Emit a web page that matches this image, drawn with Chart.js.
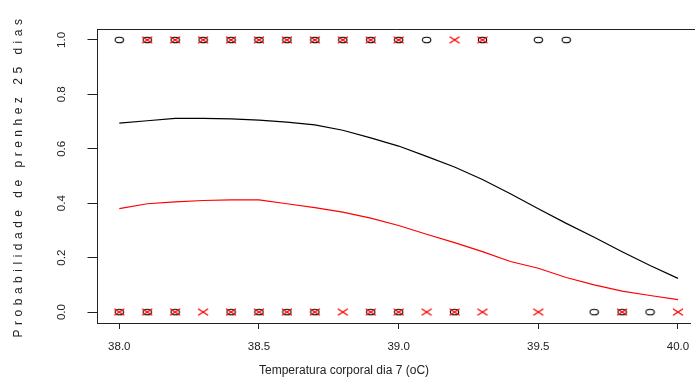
<!DOCTYPE html>
<html>
<head>
<meta charset="utf-8">
<script src="https://cdn.jsdelivr.net/npm/chart.js@4.4.1/dist/chart.umd.min.js"></script>
<style>
  html, body { margin: 0; padding: 0; background: #fff; }
  #wrap { width: 695px; height: 378px; }
</style>
</head>
<body>
<div id="wrap"><canvas id="chart" width="695" height="378"></canvas></div>
<script>
// observed outcomes (1 = prenhe, 0 = vazia), by temperature
const circleAt1 = [38.0, 38.1, 38.2, 38.3, 38.4, 38.5, 38.6, 38.7, 38.8, 38.9, 39.0, 39.1, 39.3, 39.5, 39.6];
const circleAt0 = [38.0, 38.1, 38.2, 38.4, 38.5, 38.6, 38.7, 38.9, 39.0, 39.2, 39.7, 39.8, 39.9];
const crossAt1 = [38.1, 38.2, 38.3, 38.4, 38.5, 38.6, 38.7, 38.8, 38.9, 39.0, 39.2, 39.3];
const crossAt0 = [38.0, 38.1, 38.2, 38.3, 38.4, 38.5, 38.6, 38.7, 38.8, 38.9, 39.0, 39.1, 39.2, 39.3, 39.5, 39.8, 40.0];

// fitted curves
const tempGrid = [38.0, 38.1, 38.2, 38.3, 38.4, 38.5, 38.6, 38.7, 38.8, 38.9, 39.0,
                  39.1, 39.2, 39.3, 39.4, 39.5, 39.6, 39.7, 39.8, 39.9, 40.0];
const probBlack = [0.694, 0.703, 0.712, 0.712, 0.710, 0.705, 0.698, 0.688, 0.668, 0.640, 0.610,
                   0.572, 0.533, 0.487, 0.435, 0.380, 0.326, 0.275, 0.222, 0.171, 0.124];
const probRed = [0.380, 0.398, 0.405, 0.410, 0.412, 0.412, 0.398, 0.384, 0.367, 0.345, 0.318,
                 0.286, 0.255, 0.222, 0.186, 0.161, 0.127, 0.100, 0.077, 0.061, 0.046];

const xTicks = [38.0, 38.5, 39.0, 39.5, 40.0];
const yTicks = [0.0, 0.2, 0.4, 0.6, 0.8, 1.0];

const FONT = '"Liberation Sans", Arial, sans-serif';
const INK = '#222';

// R-like open circle (pch 1) and x (pch 4)
function makeCircle() {
    const c = document.createElement('canvas');
    c.width = 11; c.height = 8;
    const g = c.getContext('2d');
    g.strokeStyle = '#000';
    g.lineWidth = 1.1;
    g.beginPath();
    g.ellipse(5.5, 4, 4.2, 2.8, 0, 0, Math.PI * 2);
    g.stroke();
    return c;
}
function makeCross() {
    const c = document.createElement('canvas');
    c.width = 12; c.height = 8;
    const g = c.getContext('2d');
    g.strokeStyle = '#ff0000';
    g.lineWidth = 1.3;
    g.beginPath();
    g.moveTo(1, 0.8); g.lineTo(11, 7.2);
    g.moveTo(1, 7.2); g.lineTo(11, 0.8);
    g.stroke();
    return c;
}

const pts = (xs, y) => xs.map(x => ({ x: x, y: y }));
const curve = (xs, ys) => xs.map((x, i) => ({ x: x, y: ys[i] }));

// box + rotated texts, placed like R's base graphics
const rText = {
    id: 'rText',
    afterDraw(chart) {
        const { ctx, chartArea: a, scales } = chart;
        ctx.save();
        ctx.strokeStyle = INK;
        ctx.lineWidth = 1;
        ctx.beginPath();
        ctx.moveTo(a.left, a.top + 0.5);
        ctx.lineTo(a.right + 5, a.top + 0.5);
        ctx.stroke();

        ctx.fillStyle = INK;
        ctx.textAlign = 'center';
        ctx.textBaseline = 'middle';

        ctx.font = '11.5px ' + FONT;
        yTicks.forEach(v => {
            const y = scales.y.getPixelForValue(v);
            ctx.save();
            ctx.translate(62, y);
            ctx.rotate(-Math.PI / 2);
            ctx.fillText(v.toFixed(1), 0, 0);
            ctx.restore();
        });

        ctx.font = '12px ' + FONT;
        ctx.fillText('Temperatura corporal dia 7 (oC)', 344, 371);

        ctx.save();
        ctx.translate(19, (a.top + a.bottom) / 2);
        ctx.rotate(-Math.PI / 2);
        ctx.letterSpacing = '4.5px';
        ctx.fillText('Probabilidade de prenhez 25 dias', 0, 0);
        ctx.restore();
        ctx.restore();
    }
};

new Chart(document.getElementById('chart'), {
    type: 'scatter',
    data: {
        datasets: [
            {
                type: 'line',
                data: curve(tempGrid, probBlack),
                borderColor: '#000',
                borderWidth: 1.2,
                pointRadius: 0,
                tension: 0,
                fill: false
            },
            {
                type: 'line',
                data: curve(tempGrid, probRed),
                borderColor: '#ff0000',
                borderWidth: 1.2,
                pointRadius: 0,
                tension: 0,
                fill: false
            },
            {
                data: pts(crossAt1, 1).concat(pts(crossAt0, 0)),
                pointStyle: makeCross(),
                pointRadius: 4
            },
            {
                data: pts(circleAt1, 1).concat(pts(circleAt0, 0)),
                pointStyle: makeCircle(),
                pointRadius: 4
            }
        ]
    },
    options: {
        responsive: false,
        animation: false,
        devicePixelRatio: 1,
        layout: { padding: { top: 29, left: 0, right: 0, bottom: 0 } },
        plugins: {
            legend: { display: false },
            tooltip: { enabled: false }
        },
        scales: {
            x: {
                type: 'linear',
                min: 37.922,
                max: 40.043,
                afterBuildTicks: s => { s.ticks = xTicks.map(v => ({ value: v })); },
                afterFit: s => { s.height = 55; s.paddingRight = 0; s.paddingLeft = 0; },
                ticks: {
                    callback: v => Number(v).toFixed(1),
                    font: { family: FONT, size: 11.5 },
                    color: INK,
                    padding: 11,
                    maxRotation: 0
                },
                grid: { drawOnChartArea: false, drawTicks: true, tickLength: 6, color: INK, lineWidth: 1 },
                border: { display: true, color: INK, width: 1 }
            },
            y: {
                type: 'linear',
                min: -0.04,
                max: 1.04,
                afterBuildTicks: s => { s.ticks = yTicks.map(v => ({ value: v })); },
                afterFit: s => { s.width = 97.5; },
                ticks: { display: false },
                grid: { drawOnChartArea: false, drawTicks: true, tickLength: 10, color: INK, lineWidth: 1 },
                border: { display: true, color: INK, width: 1 }
            }
        }
    },
    plugins: [rText]
});
</script>
</body>
</html>
